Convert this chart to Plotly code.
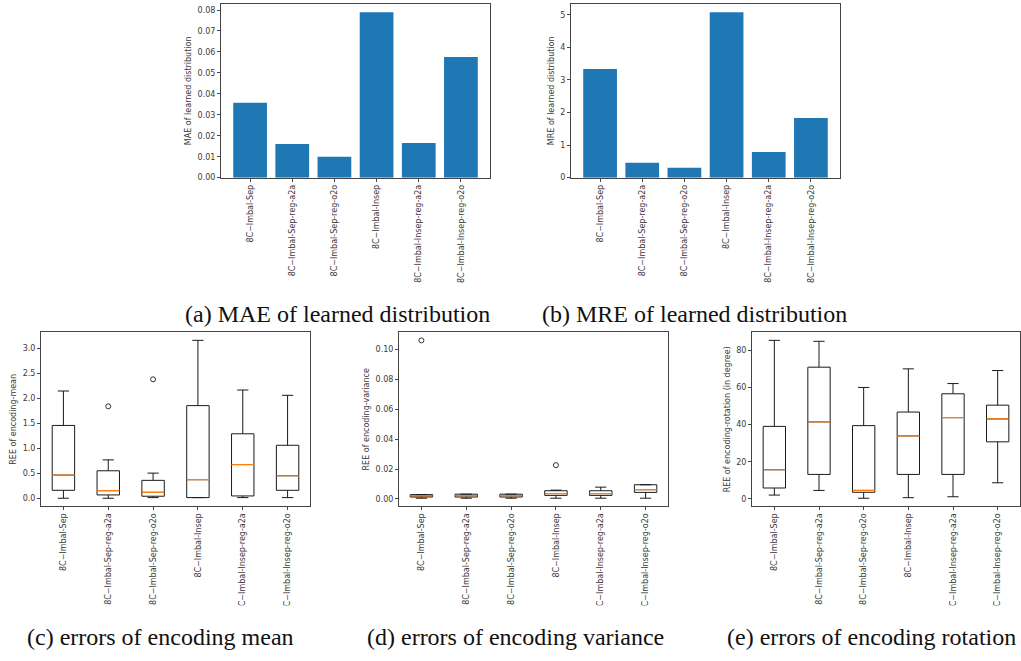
import plotly.graph_objects as go

# Experiment names shared by every panel
labels = [
    "8C\u2212Imbal-Sep",
    "8C\u2212Imbal-Sep-reg-a2a",
    "8C\u2212Imbal-Sep-reg-o2o",
    "8C\u2212Imbal-Insep",
    "8C\u2212Imbal-Insep-reg-a2a",
    "8C\u2212Imbal-Insep-reg-o2o",
]

# (a) / (b) learned-distribution errors
mae_values = [0.0358, 0.0161, 0.0100, 0.0789, 0.0165, 0.0576]
mre_values = [3.34, 0.457, 0.305, 5.08, 0.79, 1.83]

# (c) encoding-mean REE box statistics
mean_low = [0.0, 0.0, 0.013, 0.013, 0.013, 0.013]
mean_q1 = [0.159, 0.066, 0.040, 0.013, 0.046, 0.159]
mean_med = [0.464, 0.152, 0.119, 0.371, 0.675, 0.450]
mean_q3 = [1.457, 0.550, 0.358, 1.854, 1.290, 1.060]
mean_high = [2.146, 0.768, 0.503, 3.16, 2.166, 2.06]
mean_out_x = [2, 3]
mean_out_y = [1.84, 2.38]

# (d) encoding-variance REE box statistics
var_low = [0.0005, 0.0005, 0.0005, 0.0005, 0.0005, 0.0005]
var_q1 = [0.0013, 0.0013, 0.0013, 0.0024, 0.0024, 0.0044]
var_med = [0.0020, 0.0022, 0.0022, 0.0036, 0.0036, 0.0062]
var_q3 = [0.0029, 0.0032, 0.0032, 0.0055, 0.0055, 0.0095]
var_high = [0.0029, 0.0032, 0.0032, 0.0059, 0.0079, 0.0095]
var_out_x = [1, 4]
var_out_y = [0.106, 0.0226]

# (e) encoding-rotation REE box statistics (degrees)
rot_low = [2.1, 4.6, 0.4, 0.7, 1.2, 8.7]
rot_q1 = [5.9, 13.2, 3.6, 13.2, 13.2, 30.7]
rot_med = [15.7, 41.4, 4.6, 33.9, 43.7, 43.0]
rot_q3 = [39.0, 70.8, 39.4, 46.7, 56.5, 50.4]
rot_high = [85.2, 84.7, 59.9, 69.9, 62.0, 69.0]

W, H = 1021, 661
TICK_FONT = dict(family="DejaVu Sans", size=8, color="#3a3a3a")
AXIS_COLOR = "#444444"
BAR_COLOR = "#1f77b4"
MEDIAN_COLOR = "#ff7f0e"


def px_x(a, b):
    return [a / W, b / W]


def px_y(top, bottom):
    return [1 - bottom / H, 1 - top / H]


def axis_common():
    return dict(
        showline=True, mirror=True, linecolor=AXIS_COLOR, linewidth=1,
        ticks="outside", ticklen=3, tickcolor=AXIS_COLOR, tickwidth=1,
        tickfont=TICK_FONT, showgrid=False, zeroline=False,
    )


fig = go.Figure()

# panel domains (pixels -> paper)
panels = {
    "a": dict(x=px_x(221, 490), y=px_y(4, 179)),
    "b": dict(x=px_x(571, 840), y=px_y(4, 179)),
    "c": dict(x=px_x(41, 310), y=px_y(335, 510)),
    "d": dict(x=px_x(399, 668), y=px_y(335, 510)),
    "e": dict(x=px_x(752, 1020), y=px_y(335, 510)),
}
names = ["a", "b", "c", "d", "e"]
axis_ids = {n: (i + 1) for i, n in enumerate(names)}


def ax_refs(n):
    i = axis_ids[n]
    return ("x" if i == 1 else f"x{i}"), ("y" if i == 1 else f"y{i}")


bar_pos = list(range(len(labels)))
box_pos = [i + 1 for i in range(len(labels))]

# bar panels
for n, vals in (("a", mae_values), ("b", mre_values)):
    xr, yr = ax_refs(n)
    fig.add_trace(go.Bar(x=bar_pos, y=vals, width=0.8, marker_color=BAR_COLOR,
                         marker_line_width=0, xaxis=xr, yaxis=yr, showlegend=False))


def add_boxes(n, low, q1, med, q3, high, out_x=None, out_y=None):
    xr, yr = ax_refs(n)
    fig.add_trace(go.Box(
        x=box_pos, lowerfence=low, q1=q1, median=med, q3=q3, upperfence=high,
        width=0.5, whiskerwidth=0.5, fillcolor="rgba(0,0,0,0)",
        line=dict(color="#1a1a1a", width=1), boxpoints=False,
        xaxis=xr, yaxis=yr, showlegend=False, hoverinfo="skip",
    ))
    mx, my = [], []
    for p, m in zip(box_pos, med):
        mx += [p - 0.25, p + 0.25, None]
        my += [m, m, None]
    fig.add_trace(go.Scatter(x=mx, y=my, mode="lines",
                             line=dict(color=MEDIAN_COLOR, width=1.2),
                             xaxis=xr, yaxis=yr, showlegend=False, hoverinfo="skip"))
    if out_x:
        fig.add_trace(go.Scatter(x=out_x, y=out_y, mode="markers",
                                 marker=dict(symbol="circle-open", size=5,
                                             color="#333333", line=dict(width=1)),
                                 xaxis=xr, yaxis=yr, showlegend=False))


add_boxes("c", mean_low, mean_q1, mean_med, mean_q3, mean_high, mean_out_x, mean_out_y)
add_boxes("d", var_low, var_q1, var_med, var_q3, var_high, var_out_x, var_out_y)
add_boxes("e", rot_low, rot_q1, rot_med, rot_q3, rot_high)

y_titles = {
    "a": "MAE of learned distribution",
    "b": "MRE of learned distribution",
    "c": "REE of encoding-mean",
    "d": "REE of encoding-variance",
    "e": "REE of encoding-rotation (in degree)",
}
y_settings = {
    "a": dict(range=[0, 0.0829], tick0=0, dtick=0.01, tickformat=".2f"),
    "b": dict(range=[0, 5.334], tick0=0, dtick=1, tickformat="d"),
    "c": dict(range=[-0.158, 3.318], tick0=0, dtick=0.5, tickformat=".1f"),
    "d": dict(range=[-0.0048, 0.1113], tick0=0, dtick=0.02, tickformat=".2f"),
    "e": dict(range=[-3.84, 89.44], tick0=0, dtick=20, tickformat="d"),
}

layout = dict(
    width=W, height=H, margin=dict(l=0, r=0, t=0, b=0),
    paper_bgcolor="white", plot_bgcolor="white", showlegend=False,
)
for n in names:
    i = axis_ids[n]
    xk = "xaxis" if i == 1 else f"xaxis{i}"
    yk = "yaxis" if i == 1 else f"yaxis{i}"
    xr, yr = ax_refs(n)
    is_bar = n in ("a", "b")
    pos = bar_pos if is_bar else box_pos
    xa = axis_common()
    xa.update(domain=panels[n]["x"], anchor=yr, tickmode="array",
              tickvals=pos, ticktext=labels, tickangle=-90,
              range=[-0.69, 5.69] if is_bar else [0.5, 6.5])
    ya = axis_common()
    ya.update(domain=panels[n]["y"], anchor=xr,
              title=dict(text=y_titles[n], font=TICK_FONT, standoff=4),
              **y_settings[n])
    layout[xk] = xa
    layout[yk] = ya

captions = [
    ("(a) MAE of learned distribution", 337.5, 316),
    ("(b) MRE of learned distribution", 694, 316),
    ("(c) errors of encoding mean", 160, 642),
    ("(d) errors of encoding variance", 515, 642),
    ("(e) errors of encoding rotation", 871, 642),
]
annotations = []
for text, cx, cy in captions:
    annotations.append(dict(
        text=text, x=cx / W, y=1 - cy / H, xref="paper", yref="paper",
        xanchor="center", yanchor="middle", showarrow=False,
        font=dict(family="Liberation Serif", size=24, color="#111111"),
    ))
layout["annotations"] = annotations

# page edge below the lower row of tick labels
layout["shapes"] = [dict(type="rect", xref="paper", yref="paper",
                         x0=0, x1=1, y0=1 - 626 / H, y1=1 - 610 / H,
                         fillcolor="white", line=dict(width=0), layer="above")]

fig.update_layout(**layout)
fig.write_html("out.html")
